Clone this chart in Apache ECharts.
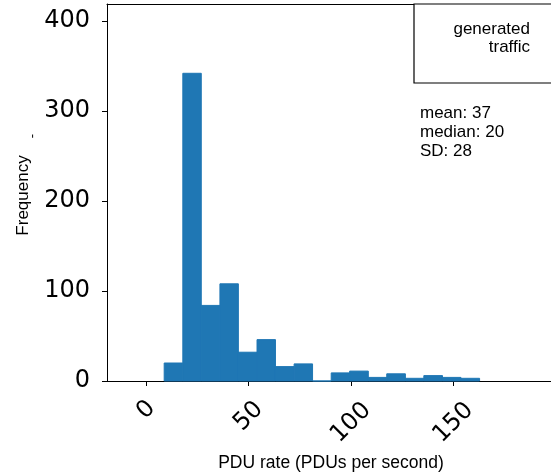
<!DOCTYPE html>
<html>
<head>
<meta charset="utf-8">
<script src="https://cdn.jsdelivr.net/npm/echarts@6/dist/echarts.min.js"></script>
<style>html,body{margin:0;padding:0;background:#fff;}#c{width:551px;height:474px;}</style>
</head>
<body>
<div id="c"></div>
<script>
// Histogram bin edges (PDUs per second) and counts per bin
var binEdges = [8.8, 17.9, 26.9, 36.0, 45.0, 54.1, 63.1, 72.2, 81.2, 90.3, 99.3, 108.4, 117.4, 126.5, 135.5, 144.6, 153.6, 162.7];
var counts = [20, 342, 84, 108, 32, 46, 16, 19, 0, 9, 11, 4, 8, 3, 6, 4, 3];
var xTicks = [0, 50, 100, 150];
var yTicks = [0, 100, 200, 300, 400];
var legendLines = ['generated', 'traffic'];
var statLabels = ['mean', 'median', 'SD'];
var statValues = [37, 20, 28];

var data = [];
for (var i = 0; i < counts.length; i++) {
  data.push([binEdges[i], binEdges[i + 1], counts[i]]);
}

var chart = echarts.init(document.getElementById('c'), null, {renderer: 'canvas'});
var tickFont = 'DejaVu Sans';
var textFont = 'Liberation Sans';
var X_MIN = -19.1, X_MAX = 199.5;

chart.setOption({
  animation: false,
  backgroundColor: '#fff',
  grid: {left: 107, top: 4, right: -4, bottom: 93, outerBoundsMode: 'none', containLabel: false, show: false},
  xAxis: [{
    type: 'value', min: X_MIN, max: X_MAX,
    splitLine: {show: false},
    axisLine: {onZero: false, lineStyle: {color: '#000', width: 1}},
    axisTick: {show: true, length: 5, lineStyle: {color: '#000', width: 1}, customValues: xTicks},
    axisLabel: {
      customValues: xTicks,
      rotate: 45, align: 'center', verticalAlign: 'middle', margin: 29,
      color: '#000', fontFamily: tickFont, fontSize: 24,
      formatter: function (v) { return '{l' + String(v).length + '|' + v + '}'; },
      rich: {
        l1: {fontFamily: tickFont, fontSize: 24, color: '#000'},
        l2: {fontFamily: tickFont, fontSize: 24, color: '#000', padding: [9, 9, 0, 0]},
        l3: {fontFamily: tickFont, fontSize: 24, color: '#000', padding: [18, 18, 0, 0]}
      }
    },
    name: 'PDU rate (PDUs per second)', nameLocation: 'middle', nameGap: 73,
    nameTextStyle: {fontFamily: textFont, fontSize: 17.5, color: '#000'}
  }, {
    type: 'value', position: 'top', min: X_MIN, max: X_MAX,
    splitLine: {show: false},
    axisLine: {show: true, onZero: false, lineStyle: {color: '#000', width: 1}},
    axisTick: {show: false}, axisLabel: {show: false}
  }],
  yAxis: {
    type: 'value', min: 0, max: 419,
    splitLine: {show: false},
    axisLine: {show: true, onZero: false, lineStyle: {color: '#000', width: 1}},
    axisTick: {show: true, length: 5, lineStyle: {color: '#000', width: 1}, customValues: yTicks},
    axisLabel: {customValues: yTicks, margin: 17, color: '#000', fontFamily: tickFont, fontSize: 24},
    name: 'Frequency', nameLocation: 'middle', nameRotate: 90, nameGap: 75,
    nameTextStyle: {fontFamily: textFont, fontSize: 17, color: '#000', padding: [0, 6, 0, 0]}
  },
  series: [{
    type: 'custom',
    name: 'generated traffic',
    xAxisIndex: 0,
    data: data,
    encode: {x: [0, 1], y: 2},
    renderItem: function (params, api) {
      var p0 = api.coord([api.value(0), api.value(2)]);
      var p1 = api.coord([api.value(1), 0]);
      return {
        type: 'rect',
        shape: {x: p0[0], y: p0[1], width: p1[0] - p0[0], height: p1[1] - p0[1]},
        style: {fill: '#1f77b4', stroke: '#1f77b4', lineWidth: 1}
      };
    }
  }],
  graphic: [
    {type: 'rect', shape: {x: 414, y: 4, width: 150, height: 79}, style: {fill: '#fff', stroke: '#000', lineWidth: 1.2}, z: 10},
    {type: 'text', x: 530, y: 20, z: 11, style: {text: legendLines.join('\n'), font: '17px "Liberation Sans"', fill: '#000', align: 'right', verticalAlign: 'top', lineHeight: 18}},
    {type: 'text', x: 420, y: 104, z: 11, style: {text: statLabels.map(function (s, i) { return s + ': ' + statValues[i]; }).join('\n'), font: '17px "Liberation Sans"', fill: '#000', align: 'left', verticalAlign: 'top', lineHeight: 19}},
    {type: 'text', x: 32, y: 136, rotation: Math.PI / 2, z: 11, style: {text: '-', font: '13px "Liberation Sans"', fill: '#000', align: 'center', verticalAlign: 'middle'}}
  ]
});
</script>
</body>
</html>
